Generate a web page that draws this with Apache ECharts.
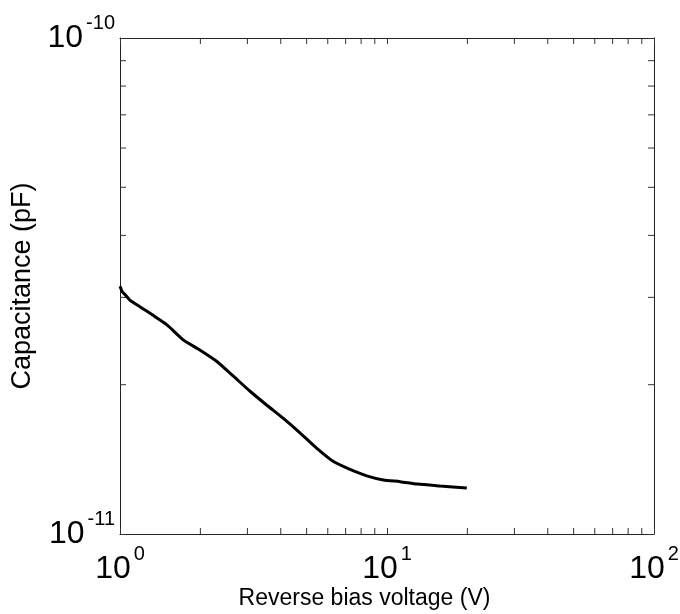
<!DOCTYPE html>
<html>
<head>
<meta charset="utf-8">
<script src="https://cdn.jsdelivr.net/npm/echarts@6/dist/echarts.min.js"></script>
<style>
  html, body { margin: 0; padding: 0; background: #fff; }
  #chart { width: 680px; height: 614px; }
</style>
</head>
<body>
<div id="chart"></div>
<script>
// reverse bias voltage (V)
var voltage = [1.0, 1.02, 1.05, 1.09, 1.19, 1.33, 1.50, 1.73, 1.99, 2.30, 2.66, 3.07, 3.54,
    4.09, 4.72, 5.45, 6.30, 7.27, 8.40, 9.69, 11.2, 13.0, 15.8, 19.9];
// capacitance
var capacitance = [3.16e-11, 3.08e-11, 3.03e-11, 2.96e-11, 2.87e-11, 2.76e-11, 2.64e-11, 2.46e-11,
    2.35e-11, 2.23e-11, 2.08e-11, 1.94e-11, 1.82e-11, 1.71e-11, 1.60e-11, 1.49e-11, 1.40e-11,
    1.35e-11, 1.31e-11, 1.285e-11, 1.275e-11, 1.261e-11, 1.25e-11, 1.238e-11];
// minor tick positions
var xMinorTicks = [2, 3, 4, 5, 6, 7, 8, 9, 20, 30, 40, 50, 60, 70, 80, 90];
var yMinorTicks = [2e-11, 3e-11, 4e-11, 5e-11, 6e-11, 7e-11, 8e-11, 9e-11];

var X_MIN = 1, X_MAX = 100, Y_MIN = 1e-11, Y_MAX = 1e-10;
var TICK_LEN = 6;
var FONT = 'Liberation Sans, Arial, sans-serif';

var chart = echarts.init(document.getElementById('chart'));

function powLabel(v) {
    var e = Math.round(Math.log10(v));
    return '{b|10}{s|' + e + '}';
}

// superscript raised with bottom padding (tokens are centred in the line)
var richLabel = {
    b: { fontSize: 32, lineHeight: 32, fontFamily: FONT, color: '#000' },
    s: { fontSize: 20, lineHeight: 20, padding: [0, 0, 30, 3], fontFamily: FONT, color: '#000' }
};

var lineStyle = { color: '#222', width: 1 };

function xTick(params, api) {
    var v = api.value(0);
    var b = api.coord([v, Y_MIN]);
    var t = api.coord([v, Y_MAX]);
    var st = { stroke: '#333', lineWidth: 1 };
    return {
        type: 'group',
        children: [
            { type: 'line', shape: { x1: b[0], y1: b[1], x2: b[0], y2: b[1] - TICK_LEN }, style: st },
            { type: 'line', shape: { x1: t[0], y1: t[1], x2: t[0], y2: t[1] + TICK_LEN }, style: st }
        ]
    };
}

function yTick(params, api) {
    var v = api.value(1);
    var l = api.coord([X_MIN, v]);
    var r = api.coord([X_MAX, v]);
    var st = { stroke: '#333', lineWidth: 1 };
    return {
        type: 'group',
        children: [
            { type: 'line', shape: { x1: l[0], y1: l[1], x2: l[0] + TICK_LEN, y2: l[1] }, style: st },
            { type: 'line', shape: { x1: r[0], y1: r[1], x2: r[0] - TICK_LEN, y2: r[1] }, style: st }
        ]
    };
}

option = {
    animation: false,
    backgroundColor: '#fff',
    grid: { left: 120, top: 38, width: 534, height: 496, containLabel: false, outerBoundsMode: 'none' },
    xAxis: [
        {
            type: 'log', logBase: 10, min: X_MIN, max: X_MAX,
            name: 'Reverse bias voltage (V)',
            nameLocation: 'middle',
            nameGap: 53,
            nameMoveOverlap: false,
            nameTextStyle: { fontSize: 23, fontFamily: FONT, color: '#000', padding: [0, 45, 0, 0] },
            axisLine: { show: true, lineStyle: lineStyle },
            axisTick: { show: true, inside: true, length: TICK_LEN, lineStyle: { color: '#333' } },
            axisLabel: { formatter: powLabel, rich: richLabel, margin: 19 },
            splitLine: { show: false }
        },
        {
            type: 'log', logBase: 10, min: X_MIN, max: X_MAX, position: 'top',
            axisLine: { show: true, lineStyle: lineStyle },
            axisTick: { show: true, inside: true, length: TICK_LEN, lineStyle: { color: '#333' } },
            axisLabel: { show: false },
            splitLine: { show: false }
        }
    ],
    yAxis: [
        {
            type: 'log', logBase: 10, min: Y_MIN, max: Y_MAX,
            name: 'Capacitance (pF)',
            nameLocation: 'middle',
            nameGap: 84,
            nameMoveOverlap: false,
            nameTextStyle: { fontSize: 27, fontFamily: FONT, color: '#000' },
            axisLine: { show: true, lineStyle: lineStyle },
            axisTick: { show: true, inside: true, length: TICK_LEN, lineStyle: { color: '#333' } },
            axisLabel: { formatter: powLabel, rich: richLabel, margin: 5 },
            splitLine: { show: false }
        },
        {
            type: 'log', logBase: 10, min: Y_MIN, max: Y_MAX, position: 'right',
            axisLine: { show: true, lineStyle: lineStyle },
            axisTick: { show: true, inside: true, length: TICK_LEN, lineStyle: { color: '#333' } },
            axisLabel: { show: false },
            splitLine: { show: false }
        }
    ],
    series: [
        {
            type: 'line',
            data: voltage.map(function (v, i) { return [v, capacitance[i]]; }),
            showSymbol: false,
            symbol: 'none',
            smooth: 0.2,
            lineStyle: { color: '#000', width: 3 },
            z: 5
        },
        {
            type: 'custom',
            renderItem: xTick,
            data: xMinorTicks.map(function (v) { return [v, Y_MIN]; }),
            clip: false,
            silent: true
        },
        {
            type: 'custom',
            renderItem: yTick,
            data: yMinorTicks.map(function (v) { return [X_MIN, v]; }),
            clip: false,
            silent: true
        }
    ]
};
chart.setOption(option);
</script>
</body>
</html>
